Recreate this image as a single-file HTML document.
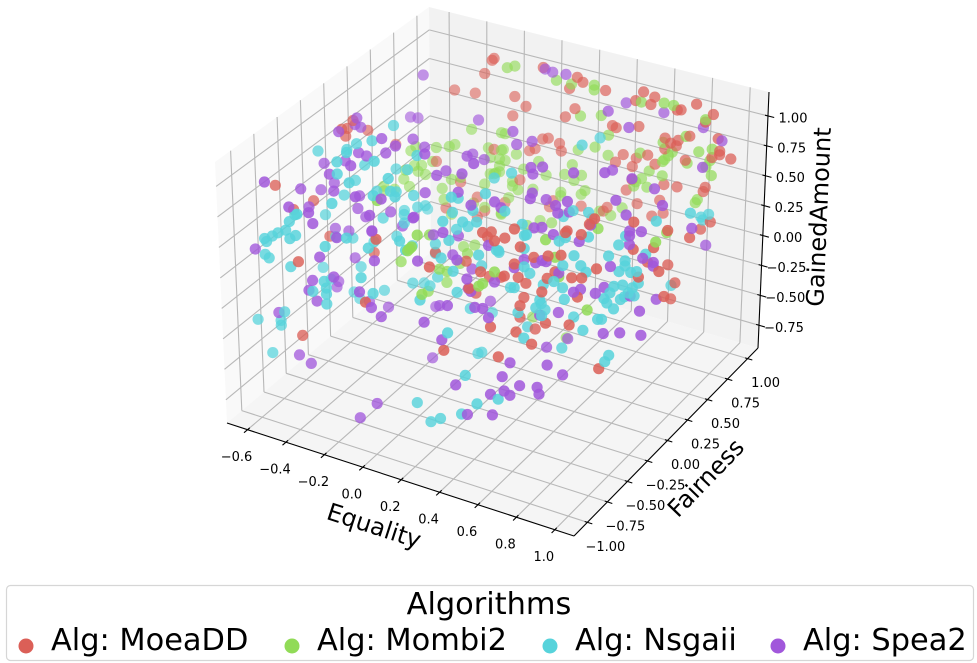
<!DOCTYPE html>
<html lang="en">
<head>
<meta charset="utf-8">
<title>Algorithms 3D scatter</title>
<style>
html,body{margin:0;padding:0;background:#fff;}
svg{display:block;font-family:"DejaVu Sans","Liberation Sans",sans-serif;}
</style>
</head>
<body>
<svg id="chart" xmlns="http://www.w3.org/2000/svg" width="977" height="663" viewBox="0 0 977 663">
  <g id="panes"></g>
  <g id="grid"></g>
  <g id="axes"></g>
  <g id="points"></g>
  <g id="ticklabels"></g>
  <text x="374" y="526" font-size="24" text-anchor="middle" dominant-baseline="central" transform="rotate(18 374 526)">Equality</text>
  <text x="706" y="478" font-size="24" text-anchor="middle" dominant-baseline="central" transform="rotate(-46 706 478)">Fairness</text>
  <text x="819" y="217" font-size="24" text-anchor="middle" dominant-baseline="central" transform="rotate(-87.5 819 217)">GainedAmount</text>
  <g>
    <rect x="6.5" y="585.5" width="967" height="75" rx="4" ry="4" fill="#fff" stroke="#d6d6d6" stroke-width="1.2"/>
    <text x="489" y="614" font-size="30.4" text-anchor="middle">Algorithms</text>
    <circle cx="26" cy="646" r="7.5" fill="#db5f57"/>
    <text x="51" y="650" font-size="30.4">Alg: MoeaDD</text>
    <circle cx="292" cy="646" r="7.5" fill="#91db57"/>
    <text x="317" y="650" font-size="30.4">Alg: Mombi2</text>
    <circle cx="550" cy="646" r="7.5" fill="#57d3db"/>
    <text x="575" y="650" font-size="30.4">Alg: Nsgaii</text>
    <circle cx="778" cy="646" r="7.5" fill="#a157db"/>
    <text x="803" y="650" font-size="30.4">Alg: Spea2</text>
  </g>
</svg>
<script>
const equalityTicks=[-0.6,-0.4,-0.2,0,0.2,0.4,0.6,0.8,1];
const fairnessTicks=[-1,-0.75,-0.5,-0.25,0,0.25,0.5,0.75,1];
const gainedTicks=[-0.75,-0.5,-0.25,0,0.25,0.5,0.75,1];

const moeaddEquality=[-.25,-.26,-.30,-.46,-.35,-.63,-.56,-.59,-.62,-.60,
-.63,-.56,-.25,-.43,-.68,-.63,-.59,-.34,-.51,-.30,
-.34,.01,.19,.22,.15,.34,-.14,-.08,-.15,.18,
.13,.54,.50,.60,.58,.82,.74,.72,.91,.87,
.38,.40,.52,.01,.04,.10,-.03,-.06,.11,.66,
.79,.94,.69,.73,.72,.66,.44,.57,.51,.40,
.49,.61,.77,.95,.95,1.01,.91,-.11,.49,.66,
.73,.88,.87,.46,.07,-.19,.05,.22,.36,.34,
.52,.64,.66,.60,.28,
-.55,-.03,-.32,-.43,-.42,-.09,0,.24,.16,.50,
.28,.44,.21,.51,.27,.57,.29,.31,.59,.55,
.34,.67,.36,.70,.51,.84,.65,.80,.68,.88,
.92,.82,1.02,1.07,.99,1.04,1.06,1.02,1.0,.97,
.95,1.03,1.05,.99,1.06,.97,.96,1.01,.96,.58,
.62,.43,.67,.47,.81,.46,.99,.70,.44,.83,
.52,.68,.95,.76,.98,.62];
const moeaddFairness=[.9,.9,.9,.9,.9,.3,0,0,0,0,
.6,.9,.9,.9,-.6,-.3,-.6,.9,.9,.9,
.9,.9,.9,.9,.9,.9,.9,.9,.9,.9,
.9,.9,.9,.9,.9,.9,.9,.9,.9,.9,
.9,.9,.9,.9,.9,.9,.9,.9,.9,.9,
.9,.9,.9,.9,.9,.9,.9,.9,.9,.9,
.9,.9,.9,.9,.9,.9,.9,.9,.9,.9,
.9,.9,.9,.9,.9,.9,.9,.9,.9,.9,
.9,.9,.9,.9,.9,
-.3,-.9,-.3,-.9,-.9,-.9,-.3,-.9,-.3,-.9,
-.3,-.9,-.3,-.9,-.3,-.9,-.3,-.9,-.9,-.9,
-.3,-.9,-.3,-.9,-.3,-.9,-.3,-.6,-.3,-.6,
-.6,-.3,-.3,0,.6,.6,.3,-.3,0,0,
.3,0,-.3,.3,0,.3,-.6,-.9,-.9,-.3,
-.9,-.3,-.9,-.3,-.9,-.3,-.9,-.9,-.3,-.9,
-.3,-.9,-.9,-.9,-.6,-.3];
const moeaddGained=[1.08,1.06,.93,.72,.74,.66,.95,.87,.85,.80,
.36,.06,.30,-.06,.70,.42,.54,-.15,-.32,-.25,
-.32,1.11,1.10,1.07,.99,1.05,.80,.74,.63,.83,
.74,1.12,1.03,1.10,1.03,1.13,1.05,1.04,1.08,1.00,
.77,.76,.82,.50,.52,.50,.40,.37,.44,.78,
.85,.89,.75,.79,.74,.69,.55,.60,.55,.47,
.47,.54,.64,.79,.76,.75,.72,.10,.36,.39,
.40,.46,.42,.26,0,-.13,-.06,.02,.07,.03,
.17,.25,.15,.10,-.06,
.16,.73,.13,.36,-.24,.19,.28,.63,.28,.71,
.21,.55,.04,1.03,.53,.99,.58,-.01,.07,.29,
.23,1.13,.56,1.0,.47,.99,.55,.98,.76,1.0,
1.10,.92,.98,.75,.35,.43,.50,.76,.58,.45,
.23,.40,.55,.10,.21,-.04,.76,.89,.87,.33,
.73,.27,.85,.24,.69,.12,.73,.53,-.05,.45,
-.11,.31,.49,.25,-.03,.40];

const mombi2Equality=[-.37,-.56,-.49,-.46,-.67,-.55,-.28,-.27,-.21,-.21,
-.22,-.58,-.64,-.68,-.58,-.62,-.66,-.59,-.55,-.64,
-.56,-.55,-.48,-.43,-.22,-.27,-.24,-.22,-.30,-.53,
-.52,-.02,-.30,-.36,-.48,-.21,-.18,-.14,.08,.16,
.28,.28,.53,.65,.70,.21,.32,.87,-.19,.36,
-.20,-.13,-.19,.29,.20,.77,.65,.36,.53,.84,
.91,.70,.68,.66,.65,.78,.90,-.01,-.09,.17,
.13,.22,.18,.03,-.25,.91,.88,.58,.65,.54,
.51,.50,.57,-.15,-.15,-.12,-.04,.11,.11,.24,
.22,-.17,.84,.83,.44,.32,.38,-.21,0,
.18,-.03,-.18,.14,.15,.13,.02,-.08,.06,-.01,
-.13,-.07,.03,.57,.51,.49,-.04,.20,.57,1.04,
.42,.62,1.01,.94,.71,.64,.24,.20,.07];
const mombi2Fairness=[.9,.9,.9,.9,.9,.6,.9,.9,.9,.9,
.9,.9,.9,.9,.6,.9,.9,.6,.3,.6,
.6,.3,.9,.9,.9,.9,.9,.9,.9,.9,
.9,-.9,.9,.9,.9,.9,.9,.9,.9,.9,
.9,.9,.9,.9,.9,.9,.9,.9,.9,.9,
.9,.9,.9,.9,.9,.9,.9,.9,.9,.9,
.9,.9,.9,.9,.9,.9,.9,.9,.9,.9,
.9,.9,.9,.9,.9,.9,.9,.9,.9,.9,
.9,.9,.9,.9,.9,.9,.9,.9,.9,.9,
.9,.9,.9,.9,.9,.9,.9,.9,.9,
-.9,-.3,-.3,-.9,-.9,-.9,-.3,0,-.3,0,
.3,.3,0,-.9,-.9,-.9,-.3,-.9,-.3,-.9,
.3,-.3,0,.3,0,-.3,.3,.6,.6];
const mombi2Gained=[.42,.18,.22,.25,.14,.34,.30,.22,.31,.46,
.23,.05,-.01,-.03,.16,-.08,-.07,.08,.22,-.03,
.03,.18,-.06,-.02,.17,.08,.10,.12,-.02,-.16,
-.25,1.05,-.22,-.21,-.36,-.24,1.03,1.06,1.03,1.03,
1.07,1.03,1.03,1.07,1.07,.78,.83,1.02,.46,.68,
.32,.31,.23,.55,.49,.84,.74,.51,.60,.74,
.79,.68,.64,.60,.58,.62,.69,.30,.20,.35,
.25,.28,.22,.20,.09,.57,.63,.47,.46,.39,
.35,.31,.33,.03,.07,.01,.05,.09,.06,.16,
.12,-.08,.34,.31,.10,.02,.01,-.23,-.20,
.86,.41,.12,.73,.75,.71,.15,-.19,.15,0,
-.10,-.06,.10,.74,.62,.59,-.06,.39,.64,.65,
-.61,.52,.63,.49,.61,.37,-.52,.06,-.02];

const nsgaiiEquality=[-.35,-.32,-.40,-.45,-.31,-.60,-.36,-.36,-.17,-.36,
-.41,-.16,-.47,-.25,-.57,-.04,-.30,-.34,-.14,-.09,
-.10,-.20,-.09,.07,-.11,-.23,-.19,-.32,-.30,-.16,
.09,.22,.12,.33,.26,.17,-.43,-.44,-.27,.26,
.45,.49,.58,.66,1.06,1.03,.99,.36,.53,
-.47,-.53,-.49,-.56,-.60,-.59,-.47,-.44,-.60,-.58,-.47,-.59,-.29,-.52,-.18,-.43,-.07,-.32,
-.39,-.11,-.30,-.55,-.29,-.29,-.29,-.36,-.43,-.05,-.40,-.27,
-.51,-.53,-.53,-.65,-.58,
-.20,.09,-.16,.31,0,.34,.11,.41,.17,.48,
-.12,.12,0,.30,.01,.36,.49,.24,.59,-.12,
-.20,-.03,.38,.19,.18,.16,.33,.42,.22,.24,
.17,.24,.29,.40,.48,.59,.58,.72,.46,.73,
.67,.49,.72,.39,.33,.58,.64,.80,.79,
1.07,1.02,.97,.66,.88,.78,.87,.56,.80,.55,
.78,.57,.69,.81,.48,.72,.66,1.02,.72,.99,
.97,.67,.66,.98,.96,.98,.98,.95,1.01,1.04,
.97,1.05,1.05,1.0,1.03,1.05,.89,1.02,1.03,.96,
.98,1.0,.97,1.03,1.01,1.0,1.01];
const nsgaiiFairness=[0,-.3,-.3,-.3,-.6,-.3,-.6,-.3,-.6,-.6,
-.3,-.9,-.3,-.9,-.3,-.9,-.3,0,-.3,-.3,
-.6,-.3,-.6,-.9,-.3,0,0,.3,0,-.3,
-.3,-.6,-.3,-.6,-.3,0,-.9,-.9,-.3,0,
.6,.3,0,0,.3,.6,.6,-.3,0,
-.9,-.9,-.9,-.9,-.9,-.9,-.9,-.9,-.9,-.9,-.9,-.3,-.9,-.3,-.9,-.3,-.9,-.3,
-.3,-.9,-.9,-.3,-.9,-.9,-.9,-.9,-.3,-.9,-.3,-.3,
-.9,-.9,-.9,-.9,-.9,
-.3,-.9,-.3,-.9,-.3,-.9,-.3,-.9,-.3,-.9,
-.3,-.9,-.3,-.9,-.3,-.9,-.9,-.3,-.9,-.3,
0,-.3,-.9,-.9,-.3,0,-.9,-.9,-.3,-.3,
-.9,-.9,-.9,-.9,-.9,-.9,-.6,-.9,-.3,-.9,
-.9,-.3,-.9,-.3,-.3,-.9,-.3,-.6,-.3,
-.6,-.6,-.9,-.3,-.6,-.3,-.9,-.3,-.9,-.3,
-.9,-.3,-.9,-.9,-.3,-.9,-.3,-.9,-.3,-.6,
-.6,-.3,-.3,-.3,0,-.3,-.3,-.3,-.3,-.3,
-.3,-.3,-.6,-.6,-.6,-.6,-.3,-.3,-.3,-.3,
-.3,-.3,.3,-.6,-.6,.6,0];
const nsgaiiGained=[1.0,1.06,1.0,.93,1.14,.85,1.04,.84,1.13,.94,
.69,1.13,.54,.92,.33,1.08,.65,.64,.90,1.04,
1.02,.69,.92,1.12,.70,.37,.40,.13,.31,.52,
.65,1.01,.78,.95,.88,.79,.75,.74,.44,.87,
.88,1.02,.70,.72,.70,.49,.45,.78,.63,
.67,.55,.59,.51,.47,.45,.53,.57,.34,.32,.30,-.12,.55,.17,.67,.20,.64,.22,
-.02,.38,.26,-.20,.21,.16,.08,.15,-.25,.28,-.29,-.16,
-.09,-.17,-.21,-.22,-.46,
.32,.77,.45,1.03,.35,.89,.52,1.07,.57,1.10,
.28,.71,.27,.73,.08,.65,.84,.28,.92,-.03,
-.25,-.01,.49,.34,-.10,-.33,.14,-.16,-.45,-.43,
-.50,-.62,-.57,-.48,-.36,-.27,.95,1.10,.52,1.11,
.66,.33,.85,.17,.43,.92,.66,.94,.76,
1.0,.89,1.05,.47,.75,.47,.80,.27,.62,.11,
.55,.07,.47,.50,-.11,.28,-.20,.48,.08,.37,
.36,.20,.29,.85,.51,.65,.61,.55,.57,.59,
.45,.50,.66,.54,.60,.48,.27,.45,.39,.33,
.36,.40,.07,.10,.04,.43,.80];

const spea2Equality=[-.48,-.55,-.51,-.19,-.54,-.55,-.49,-.52,-.27,-.25,
-.20,-.25,-.39,-.35,-.46,-.29,-.57,-.40,-.52,-.59,
-.55,-.59,-.38,-.39,-.13,-.40,0,-.23,-.05,.01,
-.08,.14,.03,-.08,.20,-.02,-.19,-.05,.12,.44,
.34,-.47,-.51,-.37,-.36,-.06,-.11,.32,.02,.06,
.13,.45,.49,.65,.60,.86,.13,.15,.23,.96,
.36,.42,.37,.58,.74,.65,.99,.88,.87,.50,
.49,.44,.68,.80,
.62,.56,.76,1.04,.98,
-.35,-.52,-.23,-.45,-.05,-.33,-.65,-.32,-.42,-.04,
-.36,-.38,-.34,-.25,-.51,-.52,-.12,-.35,-.06,-.25,
-.01,-.54,-.44,-.38,-.17,.16,-.01,.31,.12,.18,
.09,.38,.19,.54,.43,.17,.45,.57,-.14,.02,
.33,.47,.51,.54,.21,.30,-.02,.37,.55,.61,
-.04,-.13,.43,.56,.15,.51,.68,.61,.87,.80,
1.0,1.0,1.06,1.0,1.07,1.02,1.07,1.0,1.0,1.03,
1.08,1.0,.97,.88,.64,.81,.83,.52,.46,.67,
.64,1.02,1.01,1.06,.80,.56,1.0,.96,1.07,.58,
.84,.92,.65,.70,.79,.80,.65,.62];
const spea2Fairness=[.6,.6,.6,.6,0,0,-.3,0,-.3,0,
-.3,-.3,-.3,-.3,-.3,-.6,-.3,-.6,-.3,-.9,
-.6,-.3,-.6,-.3,-.9,-.3,-.9,-.3,-.3,-.3,
0,-.3,0,.3,-.3,.3,0,-.3,-.3,-.6,
-.3,-.9,-.6,-.9,-.3,-.9,-.3,-.6,.9,.9,
.9,.9,.6,.9,.6,.9,.3,.3,.3,.9,
0,0,0,0,0,.3,.6,0,.3,-.3,
-.3,0,-.3,0,
-.3,0,-.6,0,-.3,
-.9,-.3,-.9,-.3,-.9,-.3,-.9,-.9,-.3,-.9,
-.9,-.9,-.9,-.9,-.3,-.3,-.9,-.3,-.9,-.3,
-.9,-.9,-.9,-.9,-.3,-.9,-.3,-.9,-.3,-.9,
-.3,-.9,-.3,-.9,-.9,-.3,-.9,-.9,0,-.3,
-.9,-.9,-.9,-.9,-.9,-.9,-.3,-.9,-.9,-.9,
-.9,-.9,-.9,-.9,0,-.3,-.6,-.3,-.6,-.3,
-.3,-.3,-.3,-.3,.3,.6,-.3,0,0,-.6,
-.9,-.6,-.9,-.6,-.3,-.9,-.9,-.3,-.3,-.9,
-.3,0,-.3,-.3,-.9,0,-.6,-.3,-.3,-.3,
-.9,-.9,-.9,-.9,-.9,-.9,-.9,-.9];
const spea2Gained=[1.02,.63,.64,.76,.98,.92,1.06,.91,1.10,.93,
1.07,.99,.93,.92,.83,1.04,.76,.92,.62,.94,
.73,.53,.79,.57,1.03,.46,1.07,.51,.75,.92,
.74,.99,.91,.70,1.10,.68,.89,1.07,.83,1.07,
.80,.79,.60,.79,.41,.91,.52,.99,1.10,1.09,
1.10,.99,1.12,.99,1.03,.95,.98,.88,.94,.88,
.96,.99,.91,1.01,1.08,.88,.86,1.09,.82,.99,
.94,.73,1.0,.88,
.94,.68,1.12,.94,1.02,
.71,.24,.65,.25,.79,.30,.36,.45,.04,.55,
.24,.15,.08,.32,-.20,-.25,.26,-.29,.16,-.29,
.11,-.11,-.41,-.45,.42,.99,.42,.94,.47,.65,
.30,.75,.23,.94,.62,.06,.53,.66,-.42,-.15,
.36,.41,.42,.36,.17,.07,-.60,-.26,-.25,-.08,
-.61,-.77,-.47,-.41,-.24,.71,.97,.70,.94,.86,
.90,.86,.92,.79,.58,.23,.71,.46,.43,.81,
.80,.63,.76,.56,.08,.94,.94,.43,.43,.82,
.40,.17,.38,.28,.50,-.36,.26,.06,.09,-.23,
.12,.08,.05,-.11,-.08,-.13,-.21,-.19];

// Axis limits and the on-screen frame of the 3D box (axis geometry, not data)
const eMin=-0.707,eMax=1.10,fMin=-1.167,fMax=1.13,gMin=-0.94,gMax=1.20;
const floorFrame=[[227,423],[574,536],[758,348],[431,252]];
const roofFrame=[[215,162],[578,264],[769,92],[429,7]];

function mix(a,b,t){return a+(b-a)*t;}
function nU(e){return (e-eMin)/(eMax-eMin);}
function nV(f){return (f-fMin)/(fMax-fMin);}
function nW(g){return (g-gMin)/(gMax-gMin);}
function quad(fr,u,v,i){return mix(mix(fr[0][i],fr[1][i],u),mix(fr[3][i],fr[2][i],u),v);}
function project(e,f,g){
  const u=nU(e),v=nV(f),w=nW(g);
  return [mix(quad(floorFrame,u,v,0),quad(roofFrame,u,v,0),w),
          mix(quad(floorFrame,u,v,1),quad(roofFrame,u,v,1),w)];
}
function depthOf(e,f,g){return 0.433*nU(e)-0.75*nV(f)+0.375*nW(g);}
function alphaOf(d){return Math.max(0.58,Math.min(0.86,0.58+0.28*(d+0.3)/0.6));}

const NS='http://www.w3.org/2000/svg';
function make(tag,parent,attrs){
  const el=document.createElementNS(NS,tag);
  for(const k in attrs)el.setAttribute(k,attrs[k]);
  document.getElementById(parent).appendChild(el);
  return el;
}
function polyPoints(list){return list.map(c=>project(c[0],c[1],c[2]).map(n=>n.toFixed(1)).join(',')).join(' ');}
function seg(parent,a,b,stroke,width){
  const p=project(a[0],a[1],a[2]),q=project(b[0],b[1],b[2]);
  return make('line',parent,{x1:p[0].toFixed(1),y1:p[1].toFixed(1),x2:q[0].toFixed(1),y2:q[1].toFixed(1),stroke:stroke,'stroke-width':width});
}

// Panes
const paneLeft=make('polygon','panes',{points:polyPoints([[eMin,fMin,gMin],[eMin,fMax,gMin],[eMin,fMax,gMax],[eMin,fMin,gMax]]),fill:'#f9f9f9'});


const paneBack=make('polygon','panes',{points:polyPoints([[eMin,fMax,gMin],[eMax,fMax,gMin],[eMax,fMax,gMax],[eMin,fMax,gMax]]),fill:'#f2f2f2'});


const paneFloor=make('polygon','panes',{points:polyPoints([[eMin,fMin,gMin],[eMax,fMin,gMin],[eMax,fMax,gMin],[eMin,fMax,gMin]]),fill:'#f5f5f5'});



// Grid
const GRID='#b8b8b8',GW=1.1;
equalityTicks.forEach(e=>{
  const a=seg('grid',[e,fMin,gMin],[e,fMax,gMin],GRID,GW);
  
  
  const b=seg('grid',[e,fMax,gMin],[e,fMax,gMax],GRID,GW);
  
  
});
fairnessTicks.forEach(f=>{
  const a=seg('grid',[eMin,f,gMin],[eMax,f,gMin],GRID,GW);
  
  
  const b=seg('grid',[eMin,f,gMin],[eMin,f,gMax],GRID,GW);
  
  
});
gainedTicks.forEach(g=>{
  const a=seg('grid',[eMin,fMin,g],[eMin,fMax,g],GRID,GW);
  
  
  const b=seg('grid',[eMin,fMax,g],[eMax,fMax,g],GRID,GW);
  
  
});

// Axis lines
const AX='#000',AW=1.1;
const xLine=seg('axes',[eMin,fMin,gMin],[eMax,fMin,gMin],AX,AW);


const yLine=seg('axes',[eMax,fMin,gMin],[eMax,fMax,gMin],AX,AW);


const zLine=seg('axes',[eMax,fMax,gMin],[eMax,fMax,gMax],AX,AW);



function label(value,digits,pos,dx,dy,name){
  const t=make('text','ticklabels',{x:(pos[0]+dx).toFixed(1),y:(pos[1]+dy).toFixed(1),'font-size':13,'text-anchor':'middle','dominant-baseline':'central',fill:'#000'});
  t.textContent=(value<0?'\u2212':'')+Math.abs(value).toFixed(digits);
  
  
}
equalityTicks.forEach(e=>{
  const k=seg('axes',[e,fMin-0.04,gMin],[e,fMin+0.025,gMin],AX,AW);
  
  
  label(e,1,project(e,fMin,gMin),-11,28,'equality-tick-label');
});
fairnessTicks.forEach(f=>{
  const k=seg('axes',[eMax+0.026,f,gMin],[eMax-0.014,f,gMin],AX,AW);
  
  
  label(f,2,project(eMax,f,gMin),18,25,'fairness-tick-label');
});
gainedTicks.forEach(g=>{
  const k=seg('axes',[eMax+0.033,fMax,g],[eMax-0.016,fMax,g],AX,AW);
  
  
  label(g,2,project(eMax,fMax,g),25,3,'gained-tick-label');
});

// Points, painted back to front
const seriesList=[
  {key:'moeadd',color:'#db5f57',e:moeaddEquality,f:moeaddFairness,g:moeaddGained},
  {key:'mombi2',color:'#91db57',e:mombi2Equality,f:mombi2Fairness,g:mombi2Gained},
  {key:'nsgaii',color:'#57d3db',e:nsgaiiEquality,f:nsgaiiFairness,g:nsgaiiGained},
  {key:'spea2',color:'#a157db',e:spea2Equality,f:spea2Fairness,g:spea2Gained}
];
const marks=[];
seriesList.forEach(s=>{
  s.e.forEach((e,i)=>{
    const f=s.f[i],g=s.g[i];
    marks.push({s:s,e:e,f:f,g:g,d:depthOf(e,f,g)});
  });
});
marks.sort((a,b)=>a.d-b.d);
marks.forEach(m=>{
  const p=project(m.e,m.f,m.g);
  const c=make('circle','points',{cx:p[0].toFixed(1),cy:p[1].toFixed(1),r:5.6,fill:m.s.color,'fill-opacity':alphaOf(m.d).toFixed(2)});
  
  
});
</script>
</body>
</html>
